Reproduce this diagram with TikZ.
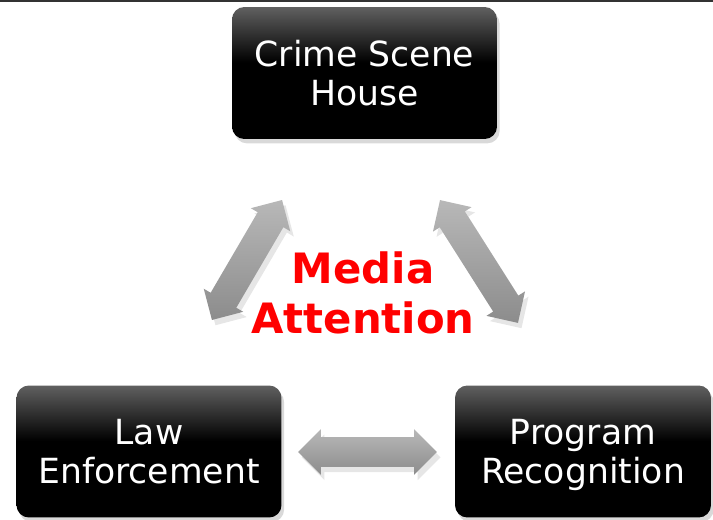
\documentclass[tikz,border=0pt]{standalone}
\usepackage{fontspec}
\setmainfont{DejaVu Sans}
\usetikzlibrary{positioning,shapes.arrows,shadows}
\definecolor{boxTop}{HTML}{606060}
\definecolor{arrowLight}{HTML}{B8B8B8}
\definecolor{arrowDark}{HTML}{8C8C8C}
\definecolor{mediaRed}{HTML}{FF0000}
\pgfdeclareverticalshading{blackBoxShade}{100bp}{color(0bp)=(black); color(54bp)=(black); color(75bp)=(boxTop); color(100bp)=(boxTop)}
\tikzset{
  stageBox/.style={rectangle, rounded corners=7pt, shading=blackBoxShade, text=white, align=center,
    minimum width=5.3cm, minimum height=2.64cm, font=\fontsize{19.7}{22}\selectfont,
    drop shadow={shadow xshift=1.5pt, shadow yshift=-2.5pt, opacity=0.3}},
  linkArrow/.style={double arrow, double arrow head extend=0.16cm, inner xsep=0pt, inner ysep=0.29cm,
    top color=arrowLight, bottom color=arrowDark, draw=none,
    drop shadow={shadow xshift=2pt, shadow yshift=-3pt, opacity=0.2}},
  mediaText/.style={text=mediaRed, align=center, font=\bfseries\fontsize{23.8}{28}\selectfont}
}

\begin{document}
\begin{tikzpicture}[x=0.02cm,y=0.02cm]
\clip (0,0) rectangle (713,520);
%% top rule
\draw [line width=1.2pt, color=black!80] (0,519.4) -- (713,519.4);
%the boxes
\node [stageBox] (crimeHouse) at (364.5,447) {Crime Scene\\House};
\node [stageBox] (lawEnforce) at (149,68.5) {Law\\Enforcement};
\node [stageBox, minimum width=5.12cm] (programRecog) at (583,68.5) {Program\\\smash{Recognition}};
%the middle text
\node [mediaText] (mediaCenter) at (363,227) {Media\hspace{0.3em}\\Attention};
%arrows between boxes
\node [linkArrow, minimum height=2.78cm, rotate=59.7] (leftLink) at (247,260) {};
\node [linkArrow, minimum height=2.91cm, rotate=-57.6] (rightLink) at (479,258.5) {};
\node [linkArrow, minimum height=2.78cm] (bottomLink) at (367.5,68) {};

\end{tikzpicture}
\end{document}
